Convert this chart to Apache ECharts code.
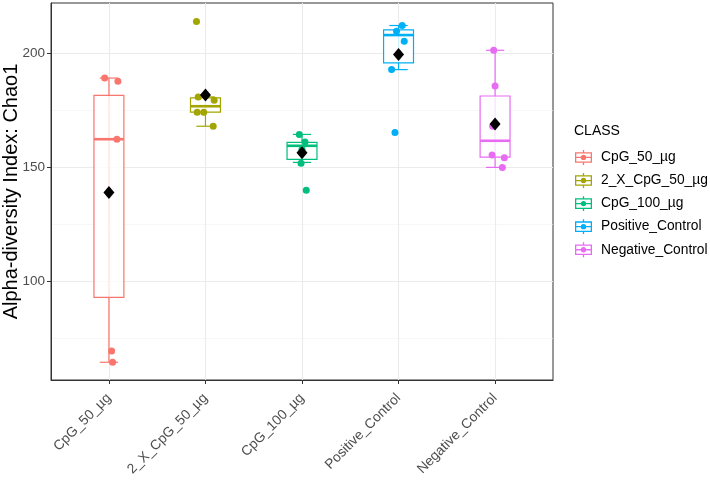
<!DOCTYPE html>
<html>
<head>
<meta charset="utf-8">
<script src="https://cdn.jsdelivr.net/npm/echarts@6/dist/echarts.min.js"></script>
<style>
html,body{margin:0;padding:0;background:#fff}
#chart{width:710px;height:484px}
</style>
</head>
<body>
<div id="chart"></div>
<script>
// 分组
const categories = ['CpG_50_µg', '2_X_CpG_50_µg', 'CpG_100_µg', 'Positive_Control', 'Negative_Control']
const colors = ['#F8766D', '#A3A500', '#00BF7D', '#00B0F6', '#E76BF3']
// 箱线: 下须, Q1, 中位数, Q3, 上须
const boxStats = [
    [64.3, 92.8, 162.4, 181.7, 189.3],
    [168.1, 174.3, 176.9, 180.6, 181.0],
    [152.2, 153.5, 159.5, 161.0, 164.5],
    [193.0, 196.0, 208.2, 210.5, 212.4],
    [150.0, 154.5, 161.7, 181.4, 201.5]
]
// 均值 (黑色菱形)
const means = [139.0, 181.8, 156.4, 199.6, 169.1]
// 散点: 水平抖动 和 数值
const pointOffsets = [
    [-0.044, 0.093, 0.083, 0.028, 0.038],
    [-0.075, 0.090, -0.086, -0.018, 0.080, -0.093],
    [-0.028, 0.031, 0.000, -0.010, 0.044],
    [0.038, -0.021, 0.059, -0.072, -0.037],
    [-0.014, 0.000, -0.025, -0.031, 0.096, 0.075]
]
const pointValues = [
    [189.3, 187.9, 162.4, 69.3, 64.3],
    [181.0, 179.5, 174.3, 174.3, 168.1, 214.2],
    [164.5, 161.2, 158.0, 151.8, 140.0],
    [212.4, 209.9, 205.5, 193.0, 165.3],
    [201.5, 185.8, 168.1, 155.4, 154.2, 150.0]
]
const yTicks = [100, 150, 200]
const yMinorTicks = [75, 125, 175]
const xTicks = [1, 2, 3, 4, 5]

// 图例图标: 小箱线 + 点
const legendIcon = 'path://M1,2H17V12H1Z M2.2,3.2V10.8H15.8V3.2Z M2,6.4H16V7.6H2Z M8.4,0H9.6V2H8.4Z M8.4,12H9.6V14H8.4Z M11.5,7A2.5,2.5,0,1,1,6.5,7A2.5,2.5,0,1,1,11.5,7Z'

function renderBox(params, api){
    let i = api.value(0)
    let band = api.size([1, 0])[0]
    let bw = band * 0.31
    let cw = band * 0.19
    let c = colors[params.dataIndex]
    let pt = v => api.coord([i, v])
    let low = pt(api.value(1)), q1 = pt(api.value(2)), med = pt(api.value(3)), q3 = pt(api.value(4)), high = pt(api.value(5))
    let x = low[0]
    let st = {stroke: c, lineWidth: 1.2, fill: null}
    return {
        type: 'group',
        children: [
            {type: 'line', shape: {x1: x, y1: high[1], x2: x, y2: low[1]}, style: st},
            {type: 'line', shape: {x1: x - cw / 2, y1: high[1], x2: x + cw / 2, y2: high[1]}, style: st},
            {type: 'line', shape: {x1: x - cw / 2, y1: low[1], x2: x + cw / 2, y2: low[1]}, style: st},
            {type: 'rect', shape: {x: x - bw / 2, y: q3[1], width: bw, height: q1[1] - q3[1]},
             style: {stroke: c, lineWidth: 1.2, fill: 'rgba(255,255,255,0.8)'}},
            {type: 'line', shape: {x1: x - bw / 2, y1: med[1], x2: x + bw / 2, y2: med[1]}, style: {stroke: c, lineWidth: 2.6}}
        ]
    }
}

let box = document.querySelector('#chart')
let myChart = echarts.init(box, null, {renderer: 'canvas'})

let series = [{
    type: 'custom',
    name: 'box',
    renderItem: renderBox,
    data: boxStats.map((s, i) => [i + 1].concat(s)),
    encode: {x: 0, y: [1, 2, 3, 4, 5]},
    z: 2,
    silent: true
}]
categories.forEach((name, i) => {
    series.push({
        type: 'scatter',
        name: name,
        symbol: 'circle',
        symbolSize: 7,
        itemStyle: {color: colors[i], opacity: 1},
        data: pointOffsets[i].map((d, j) => [i + 1 + d, pointValues[i][j]]),
        z: 3
    })
})
series.push({
    type: 'scatter',
    name: 'mean',
    symbol: 'diamond',
    symbolSize: [11, 13],
    itemStyle: {color: '#000', opacity: 1},
    data: means.map((m, i) => [i + 1, m]),
    z: 4
})

let option = {
    animation: false,
    textStyle: {fontFamily: '"Liberation Sans", Arial, sans-serif'},
    title: {
        text: 'CLASS', left: 574, top: 124, padding: 0,
        textStyle: {fontSize: 14, fontWeight: 'normal', color: '#000', fontFamily: '"Liberation Sans", Arial, sans-serif'}
    },
    legend: {
        data: categories,
        orient: 'vertical',
        left: 575,
        top: 150,
        padding: 0,
        itemWidth: 17,
        itemHeight: 15,
        itemGap: 8.2,
        icon: legendIcon,
        textStyle: {fontSize: 13.8, color: '#000', padding: [0, 0, 0, 4]}
    },
    grid: {
        left: 51, right: 157, top: 3, bottom: 104,
        outerBoundsMode: 'none',
        containLabel: false,
        show: true, borderColor: '#333', borderWidth: 1, backgroundColor: '#fff'
    },
    xAxis: {
        type: 'value',
        min: 0.4,
        max: 5.6,
        axisLine: {show: true, lineStyle: {color: '#333', width: 1}},
        axisTick: {show: true, customValues: xTicks, length: 4, lineStyle: {color: '#333'}},
        axisLabel: {
            customValues: xTicks,
            rotate: 45,
            margin: 16,
            fontSize: 13.8,
            color: '#4D4D4D',
            formatter: v => categories[Math.round(v) - 1]
        },
        splitLine: {show: true, lineStyle: {color: '#EBEBEB', width: 1.1}}
    },
    yAxis: [{
        type: 'value',
        min: 56.5,
        max: 222.3,
        name: 'Alpha-diversity Index: Chao1',
        nameLocation: 'middle',
        nameGap: 30,
        nameMoveOverlap: false,
        nameTextStyle: {fontSize: 20, color: '#000'},
        axisLine: {show: true, lineStyle: {color: '#333', width: 1}},
        axisTick: {show: true, customValues: yTicks, length: 4, lineStyle: {color: '#333'}},
        axisLabel: {customValues: yTicks, fontSize: 13.5, color: '#4D4D4D', margin: 6},
        splitLine: {show: true, lineStyle: {color: '#EBEBEB', width: 1.1}}
    }, {
        type: 'value',
        min: 56.5,
        max: 222.3,
        position: 'left',
        axisLine: {show: false},
        axisTick: {show: false, customValues: yMinorTicks},
        axisLabel: {show: false, customValues: yMinorTicks},
        splitLine: {show: true, lineStyle: {color: '#F2F2F2', width: 0.6}}
    }],
    series: series
}
myChart.setOption(option)
</script>
</body>
</html>
